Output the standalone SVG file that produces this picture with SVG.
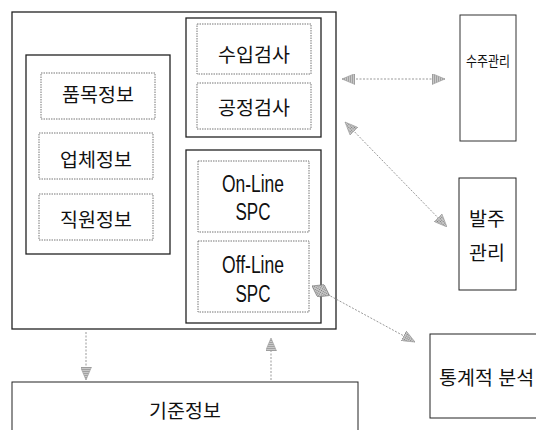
<svg xmlns="http://www.w3.org/2000/svg" width="536" height="430" viewBox="0 0 536 430">
<defs>
<pattern id="hatch" width="2" height="2" patternUnits="userSpaceOnUse">
<rect width="2" height="2" fill="#c8c8c8"/>
<rect width="1" height="1" fill="#7a7a7a"/>
</pattern>
<marker id="tri" viewBox="0 0 13 11" refX="13" refY="5.5" markerWidth="13" markerHeight="11" markerUnits="userSpaceOnUse" orient="auto-start-reverse">
<path d="M0,0 L13,5.5 L0,11 Z" fill="url(#hatch)" stroke="#999" stroke-width="0.6"/>
</marker>
<marker id="dia" viewBox="0 0 20 14" refX="0" refY="7" markerWidth="20" markerHeight="14" markerUnits="userSpaceOnUse" orient="auto">
<path d="M0,7 L10,0 L20,7 L10,14 Z" fill="url(#hatch)" stroke="#777" stroke-width="0.6"/>
</marker>
</defs>
<style>
.solid{fill:#fff;stroke:#222;stroke-width:1.3}
.dash{fill:#fff;stroke:#777;stroke-width:1;stroke-dasharray:1.5 1}
.t{font-family:"Liberation Sans","Noto Sans CJK KR",sans-serif;font-size:19.5px;fill:#111;text-anchor:middle}
.l{font-family:"Liberation Sans",Arial,sans-serif;font-size:23px;fill:#111;text-anchor:middle}
.c{fill:none;stroke:#999;stroke-width:1;stroke-dasharray:2 1.5}
</style>
<g id="main">
<rect class="solid" x="12" y="12" width="324" height="317"/>
</g>
<g id="left-group">
<rect class="solid" x="26" y="55" width="144" height="199"/>
<g id="n-pummok"><rect class="dash" x="41" y="73" width="114" height="46"/><text class="t" x="98" y="102">품목정보</text></g>
<g id="n-upche"><rect class="dash" x="39" y="133" width="114" height="46"/><text class="t" x="96" y="167">업체정보</text></g>
<g id="n-jikwon"><rect class="dash" x="39" y="194" width="114" height="46"/><text class="t" x="96" y="227">직원정보</text></g>
</g>
<g id="inspect-group">
<rect class="solid" x="186" y="18" width="135" height="119"/>
<g id="n-suip"><rect class="dash" x="197" y="24" width="114" height="50"/><text class="t" x="254" y="62">수입검사</text></g>
<g id="n-gongjeong"><rect class="dash" x="197" y="83" width="114" height="46"/><text class="t" x="254" y="115">공정검사</text></g>
</g>
<g id="spc-group">
<rect class="solid" x="186" y="150" width="135" height="173"/>
<g id="n-online"><rect class="dash" x="198" y="161" width="111" height="71"/><text class="l" x="253" y="192" textLength="62" lengthAdjust="spacingAndGlyphs">On-Line</text><text class="l" x="253" y="220" textLength="35" lengthAdjust="spacingAndGlyphs">SPC</text></g>
<g id="n-offline"><rect class="dash" x="198" y="241" width="111" height="71"/><text class="l" x="253" y="273" textLength="62" lengthAdjust="spacingAndGlyphs">Off-Line</text><text class="l" x="253" y="302" textLength="35" lengthAdjust="spacingAndGlyphs">SPC</text></g>
</g>
<g id="n-sujugwanri">
<rect class="solid" x="460" y="15" width="56" height="126" style="stroke-width:1;stroke:#333"/>
<text class="t" x="488" y="66" style="font-size:14px" textLength="44" lengthAdjust="spacingAndGlyphs">수주관리</text>
</g>
<g id="n-balju">
<rect class="solid" x="459" y="178" width="57" height="112" style="stroke-width:1"/>
<text class="t" x="487" y="226">발주</text>
<text class="t" x="487" y="260">관리</text>
</g>
<g id="n-tonggye">
<rect class="solid" x="430" y="334" width="110" height="84" style="stroke-width:1"/>
<text class="t" x="439" y="385" style="text-anchor:start">통계적 분석</text>
</g>
<g id="n-gijun">
<rect class="solid" x="12" y="382" width="346" height="60" style="stroke-width:1"/>
<text class="t" x="185" y="418">기준정보</text>
</g>
<g id="connectors">
<line class="c" x1="342" y1="79" x2="445" y2="79" marker-start="url(#tri)" marker-end="url(#tri)"/>
<line class="c" x1="345" y1="122" x2="447" y2="227" marker-start="url(#tri)" marker-end="url(#tri)"/>
<line class="c" x1="312" y1="286" x2="415" y2="342" marker-start="url(#dia)" marker-end="url(#tri)"/>
<line class="c" x1="86" y1="332" x2="86" y2="380" marker-end="url(#tri)"/>
<line class="c" x1="271" y1="380" x2="271" y2="338" marker-end="url(#tri)"/>
</g>
</svg>
